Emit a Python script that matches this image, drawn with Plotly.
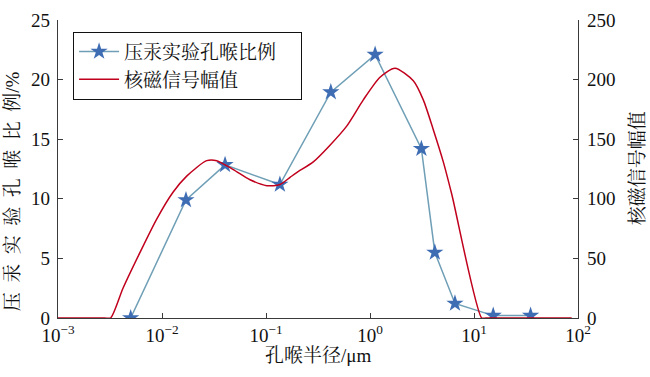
import plotly.graph_objects as go

# Mercury intrusion: pore-throat radius (um) vs proportion (%)
mip_radius = [0.005, 0.017, 0.0404, 0.136, 0.42, 1.12, 3.12, 4.2, 6.56, 15.3, 35]
mip_ratio = [0.0, 9.9, 12.85, 11.2, 18.95, 22.1, 14.2, 5.5, 1.22, 0.2, 0.2]

# NMR signal amplitude vs pore-throat radius (um)
nmr_radius = [0.001, 0.0028, 0.0032, 0.004217, 0.006143, 0.008892, 0.01276, 0.01728, 0.02691,
              0.03357, 0.04848, 0.07018, 0.1016, 0.1363, 0.1702, 0.1973, 0.2849, 0.4125,
              0.5970, 0.8622, 1.248, 1.740, 2.608, 3.254, 4.061, 5.068, 6.105, 11.86, 13.0, 87.0]
nmr_amp = [0, 0, 0, 25, 55, 83, 105.5, 119, 132, 132, 124.5, 116, 111, 112, 118, 122, 131,
           145, 161, 183, 202, 209.5, 199, 183, 158, 131, 104, 0, 0, 0]

x_tickvals = [1e-3, 1e-2, 1e-1, 1e0, 1e1, 1e2]
x_ticktext = ["10<sup>−3</sup>", "10<sup>−2</sup>", "10<sup>−1</sup>",
              "10<sup>0</sup>", "10<sup>1</sup>", "10<sup>2</sup>"]
y_left_ticks = [0, 5, 10, 15, 20, 25]
y_right_ticks = [0, 50, 100, 150, 200, 250]

FONT = "Liberation Serif, Times New Roman, Noto Serif CJK SC, Noto Sans CJK SC, serif"
AX = "#3a3a3a"
GAP = "\u00a0 "
PAD = "\u00a0" * 4

fig = go.Figure()
fig.add_trace(go.Scatter(
    x=mip_radius, y=mip_ratio, name="压汞实验孔喉比例" + PAD, mode="lines+markers",
    line=dict(color="#6f9fb6", width=1.5),
    marker=dict(symbol="star", size=13, color="#3f6db4", line=dict(width=0)),
    yaxis="y"))
fig.add_trace(go.Scatter(
    x=nmr_radius, y=nmr_amp, name="核磁信号幅值", mode="lines",
    line=dict(color="#c0001c", width=1.5, shape="spline", smoothing=0.7), yaxis="y2"))

fig.update_layout(
    width=650, height=377,
    margin=dict(l=58, r=72, t=10, b=59),
    paper_bgcolor="white", plot_bgcolor="white",
    font=dict(family=FONT, size=19, color="#111"),
    showlegend=True,
    legend=dict(x=0.029, y=0.961, xanchor="left", yanchor="top",
                bgcolor="white", bordercolor="#111", borderwidth=1,
                font=dict(size=19, family=FONT), tracegroupgap=0,
                itemwidth=40),
    xaxis=dict(type="log", range=[-3, 2], tickvals=x_tickvals, ticktext=x_ticktext,
               showline=True, linecolor=AX, linewidth=1.3, ticks="inside", ticklen=5,
               tickcolor=AX, showgrid=False, zeroline=False, mirror=False,
               tickfont=dict(size=19), ticklabeloverflow="allow"),
    yaxis=dict(range=[0, 25], tickvals=y_left_ticks, showline=True, linecolor=AX,
               linewidth=1.3, ticks="inside", ticklen=5, tickcolor=AX, showgrid=False,
               zeroline=False, tickfont=dict(size=19), ticklabelstandoff=3,
               ticklabeloverflow="allow"),
    yaxis2=dict(range=[0, 250], tickvals=y_right_ticks, overlaying="y", side="right",
                showline=True, linecolor=AX, linewidth=1.3, ticks="inside", ticklen=5,
                tickcolor=AX, showgrid=False, zeroline=False, tickfont=dict(size=19),
                ticklabelstandoff=4, ticklabeloverflow="allow"),
    annotations=[
        dict(text=GAP.join("压汞实验孔喉比") + GAP + "例/%", xref="paper", yref="paper",
             x=-0.0885, y=0.425, textangle=-90, showarrow=False, font=dict(size=19),
             xanchor="center", yanchor="middle"),
        dict(text="核磁信号幅值", xref="paper", yref="paper", x=1.1135, y=0.503,
             textangle=-90, showarrow=False, font=dict(size=19), xanchor="center", yanchor="middle"),
        dict(text="孔喉半径/μm", xref="paper", yref="paper", x=0.5, y=-0.127,
             showarrow=False, font=dict(size=19), xanchor="center", yanchor="middle"),
    ],
)

fig.write_html("out.html", config={"displayModeBar": False},
               post_script="document.body.style.margin='0px';")
